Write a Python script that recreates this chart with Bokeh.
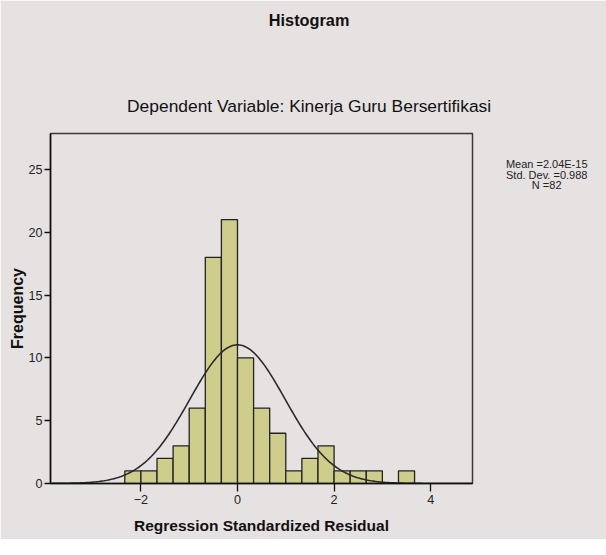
import numpy as np
from bokeh.plotting import figure
from bokeh.models import Range1d, Label, FixedTicker, ColumnDataSource
from bokeh.embed import file_html
from bokeh.resources import INLINE

# ---- data ----
bin_start = -7.0 / 3.0
bin_width = 1.0 / 3.0
counts = [1, 1, 2, 3, 6, 18, 21, 10, 6, 4, 1, 2, 3, 1, 1, 1, 0, 1]
stat_mean = 2.04e-15
stat_sd = 0.988
stat_n = 82
x_ticks = [-2, 0, 2, 4]
y_ticks = [0, 5, 10, 15, 20, 25]
title_text = "Histogram"
subtitle_text = "Dependent Variable: Kinerja Guru Bersertifikasi"
x_label = "Regression Standardized Residual"
y_label = "Frequency"
stats_lines = ["Mean =2.04E-15", "Std. Dev. =0.988", "N =82"]

FONT = "Liberation Sans"
BG = "#e7e2e2"

left = [bin_start + i * bin_width for i in range(len(counts))]
right = [l + bin_width for l in left]
src = ColumnDataSource(dict(
    left=[l for l, c in zip(left, counts) if c > 0],
    right=[r for r, c in zip(right, counts) if c > 0],
    top=[c for c in counts if c > 0],
))

x_lo, x_hi = -3.872, 4.866
y_lo, y_hi = 0, 27.86

p = figure(
    frame_width=422, frame_height=350,
    x_range=Range1d(x_lo, x_hi), y_range=Range1d(y_lo, y_hi),
    output_backend="svg", toolbar_location=None, title_location=None,
    min_border_left=50, min_border_right=118,
    min_border_top=133, min_border_bottom=56,
)
p.background_fill_color = BG
p.border_fill_color = BG
p.outline_line_color = "#3a3a3a"
p.outline_line_width = 1.5
p.xgrid.visible = False
p.ygrid.visible = False

p.quad(left="left", right="right", bottom=0, top="top", source=src,
       fill_color="#cfcd8c", line_color="#222222", line_width=1.3)

# normal curve fitted from mean, sd and N
xs = np.linspace(x_lo, x_hi, 300)
ys = stat_n * bin_width / (stat_sd * np.sqrt(2 * np.pi)) * np.exp(-0.5 * ((xs - stat_mean) / stat_sd) ** 2)
p.line(xs, ys, line_color="#2a2a2a", line_width=1.6)

for ax in (p.xaxis[0], p.yaxis[0]):
    ax.axis_line_color = "#111111"
    ax.axis_line_width = 1.5
    ax.major_tick_line_color = "#111111"
    ax.major_tick_line_width = 1.3
    ax.minor_tick_line_color = None
    ax.major_tick_in = 0
    ax.major_tick_out = 6
    ax.major_label_text_font = FONT
    ax.major_label_text_font_size = "12.6px"
    ax.major_label_text_color = "#222222"
    ax.axis_label_text_font = FONT
    ax.axis_label_text_font_style = "bold"
    ax.axis_label_text_color = "#111111"

p.xaxis.ticker = FixedTicker(ticks=x_ticks)
p.yaxis.ticker = FixedTicker(ticks=y_ticks)
p.xaxis.major_tick_out = 8
p.xaxis.major_label_standoff = 3
p.yaxis.major_label_standoff = 2
p.xaxis.axis_label = x_label
p.yaxis.axis_label = y_label
p.xaxis.axis_label_text_font_size = "15.5px"
p.yaxis.axis_label_text_font_size = "16px"
p.xaxis.axis_label_standoff = 10
p.yaxis.axis_label_standoff = -1

# titles above the frame (canvas pixels)
p.add_layout(Label(x=308.6, y=19.1, x_units="canvas", y_units="canvas",
                   text=title_text, text_align="center",
                   text_baseline="alphabetic", text_font=FONT,
                   text_font_size="16.3px", text_font_style="bold",
                   text_color="#111111"), "above")
p.add_layout(Label(x=308.6, y=105.2, x_units="canvas", y_units="canvas",
                   text=subtitle_text, text_align="center",
                   text_baseline="alphabetic", text_font=FONT,
                   text_font_size="17.4px", text_color="#111111"), "above")

# statistics text at the right of the frame
for txt, yy in zip(stats_lines, [163.8, 174.5, 184.2]):
    p.add_layout(Label(x=546.2, y=yy, x_units="canvas", y_units="canvas",
                       text=txt, text_align="center",
                       text_baseline="alphabetic", text_font=FONT,
                       text_font_size="11px", text_color="#222222"), "right")

open("out.html", "w").write(file_html(p, INLINE))
